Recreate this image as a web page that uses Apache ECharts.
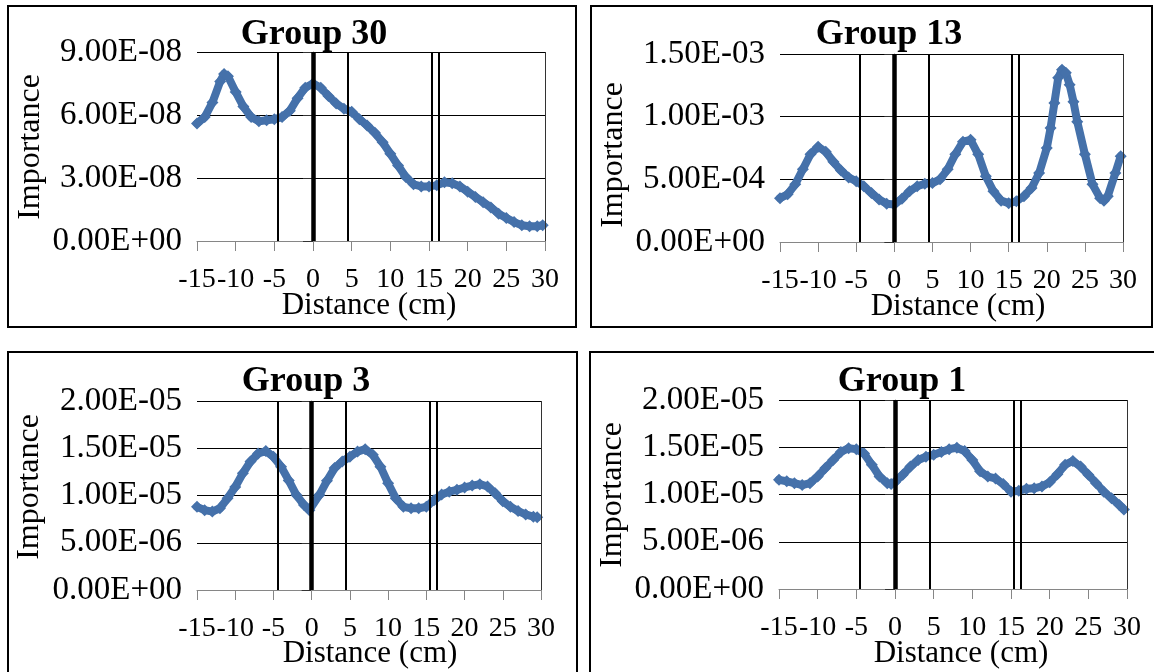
<!DOCTYPE html>
<html>
<head>
<meta charset="utf-8">
<script src="https://cdn.jsdelivr.net/npm/echarts@6/dist/echarts.min.js"></script>
<style>
  html, body { margin: 0; padding: 0; background: #fff; }
  #chart { width: 1154px; height: 672px; }
</style>
</head>
<body>
<div id="chart"></div>
<script>
// ---- Data: importance profiles along the distance axis (cm) ----
const xTicks = [-15, -10, -5, 0, 5, 10, 15, 20, 25, 30];

// Group 30 (values in units of 1e-8)
const group30Scale = 1e-8;
const group30Distance = [-15, -14, -13, -12, -11.5, -11, -10, -9, -8, -7, -6, -5, -4, -3, -2, -1, 0, 1, 2, 3, 4, 5, 6, 7, 8, 9, 10, 11, 12, 13, 14, 15, 16, 17, 18, 19, 20, 21, 22, 23, 24, 25, 26, 27, 28, 29, 29.7];
const group30Importance = [5.6, 5.9, 6.6, 7.6, 7.95, 7.85, 7.1, 6.4, 5.9, 5.7, 5.75, 5.8, 5.9, 6.2, 6.8, 7.3, 7.5, 7.3, 6.9, 6.55, 6.3, 6.15, 5.8, 5.5, 5.15, 4.7, 4.15, 3.6, 3.05, 2.7, 2.6, 2.6, 2.65, 2.8, 2.75, 2.6, 2.35, 2.1, 1.85, 1.6, 1.3, 1.1, 0.9, 0.75, 0.7, 0.7, 0.75];

// Group 13 (values in units of 1e-4)
const group13Scale = 1e-4;
const group13Distance = [-15, -14, -13, -12, -11, -10, -9, -8, -7, -6, -5, -4, -3, -2, -1, 0, 1, 2, 3, 4, 5, 6, 7, 8, 9, 10, 11, 12, 13, 14, 15, 16, 17, 18, 19, 20, 20.5, 21, 21.5, 22, 22.5, 23, 23.5, 24, 25, 26, 27, 27.5, 28, 29, 29.7];
const group13Importance = [3.5, 3.8, 4.6, 5.8, 7.0, 7.6, 7.2, 6.4, 5.7, 5.15, 4.85, 4.45, 3.9, 3.4, 3.05, 3.0, 3.45, 4.05, 4.45, 4.65, 4.7, 5.0, 5.8, 7.0, 8.0, 8.15, 7.0, 5.25, 4.05, 3.3, 3.1, 3.25, 3.65, 4.3, 5.5, 7.5, 9.1, 11.1, 13.1, 13.75, 13.5, 12.55, 11.2, 9.6, 7.0, 4.6, 3.5, 3.3, 3.65, 5.5, 6.85];

// Group 3 (values in units of 1e-6)
const group3Scale = 1e-6;
const group3Distance = [-15, -14, -13, -12, -11, -10, -9, -8, -7, -6, -5, -4, -3, -2, -1, -0.3, 1, 2, 3, 4, 5, 6, 7, 8, 9, 10, 11, 12, 13, 14, 15, 16, 17, 18, 19, 20, 21, 22, 23, 24, 25, 26, 27, 28, 29, 29.5];
const group3Importance = [8.8, 8.45, 8.3, 8.65, 9.7, 10.9, 12.35, 13.6, 14.45, 14.7, 14.1, 13.05, 11.6, 10.05, 9.0, 8.45, 10.05, 11.55, 12.9, 13.6, 14.1, 14.65, 14.9, 14.3, 13.05, 11.3, 9.7, 8.8, 8.65, 8.65, 8.8, 9.5, 10.1, 10.4, 10.6, 10.85, 11.05, 11.2, 10.95, 10.25, 9.4, 8.8, 8.35, 8.0, 7.75, 7.7];

// Group 1 (values in units of 1e-6)
const group1Scale = 1e-6;
const group1Distance = [-15, -14, -13, -12, -11, -10, -9, -8, -7, -6, -5, -4, -3, -2, -1, -0.5, 0, 1, 2, 3, 4, 5, 6, 7, 8, 9, 10, 11, 12, 13, 14, 15, 16, 17, 18, 19, 20, 21, 22, 23, 24, 25, 26, 27, 28, 29, 29.6];
const group1Importance = [11.55, 11.4, 11.2, 11.0, 11.2, 11.9, 12.8, 13.65, 14.5, 14.9, 14.8, 14.35, 13.15, 11.9, 11.2, 11.1, 11.3, 12.1, 12.95, 13.65, 14.0, 14.2, 14.5, 14.8, 14.95, 14.6, 13.65, 12.45, 11.9, 11.7, 11.1, 10.3, 10.4, 10.6, 10.65, 10.85, 11.3, 12.15, 13.15, 13.55, 12.95, 12.1, 11.2, 10.3, 9.6, 8.9, 8.4];

// Reference positions (cm) drawn as vertical lines; the one at 0 is bold
const refLines = [-4.5, 0, 4.5, 15.4, 16.3];

// Panel definitions
const panels = [
  { title: 'Group 30', dist: group30Distance, vals: group30Importance, scale: group30Scale, yMax: 9e-8, yStep: 3e-8,
    grid: { left: 197, top: 52, width: 348, height: 189 }, box: [8, 6, 568, 321],
    titlePos: [314, 35], yNamePos: [31, 147], xNamePos: [369, 306] },
  { title: 'Group 13', dist: group13Distance, vals: group13Importance, scale: group13Scale, yMax: 1.5e-3, yStep: 5e-4,
    grid: { left: 780, top: 54, width: 343, height: 188 }, box: [591, 6, 561, 321],
    titlePos: [889, 35], yNamePos: [614, 155], xNamePos: [958, 307] },
  { title: 'Group 3', dist: group3Distance, vals: group3Importance, scale: group3Scale, yMax: 2e-5, yStep: 5e-6,
    grid: { left: 197, top: 401, width: 344, height: 189 }, box: [8, 352, 569, 340],
    titlePos: [306, 382], yNamePos: [30, 487], xNamePos: [370, 654] },
  { title: 'Group 1', dist: group1Distance, vals: group1Importance, scale: group1Scale, yMax: 2e-5, yStep: 5e-6,
    grid: { left: 779, top: 400, width: 348, height: 189 }, box: [590, 352, 580, 340],
    titlePos: [902, 382], yNamePos: [613, 495], xNamePos: [961, 654] }
];

const FONT = '"Liberation Serif", "Times New Roman", serif';
const BLUE = '#4571aa';

function sciLabel(v) {
  const parts = Number(v).toExponential(2).split('e');
  const exp = parts[1];
  const sign = exp[0] === '-' ? '-' : '+';
  const digits = exp.replace(/^[+-]/, '').padStart(2, '0');
  return parts[0] + 'E' + sign + digits;
}

const grids = [], xAxes = [], yAxes = [], series = [], graphics = [];

panels.forEach((p, i) => {
  grids.push(Object.assign({ containLabel: false }, p.grid));

  xAxes.push({
    type: 'value', gridIndex: i, min: xTicks[0], max: xTicks[xTicks.length - 1], interval: 5,
    axisLine: { show: true, onZero: false, lineStyle: { color: '#868686', width: 1 } },
    axisTick: { show: true, length: 10, lineStyle: { color: '#868686' } },
    axisLabel: { color: '#000', fontFamily: FONT, fontSize: 28, margin: 25,
                 showMinLabel: true, showMaxLabel: true, hideOverlap: false },
    splitLine: { show: false }
  });

  yAxes.push({
    type: 'value', gridIndex: i, min: 0, max: p.yMax, interval: p.yStep,
    axisLine: { show: true, lineStyle: { color: '#868686', width: 1 } },
    axisTick: { show: true, length: 10, lineStyle: { color: '#333' } },
    axisLabel: { color: '#000', fontFamily: FONT, fontSize: 33, margin: 15, formatter: sciLabel,
                 showMinLabel: true, showMaxLabel: true },
    splitLine: { show: true, lineStyle: { color: '#000', width: 1.2 } }
  });

  // vertical reference lines plus the plot-area edge at the right
  series.push({
    type: 'line', xAxisIndex: i, yAxisIndex: i, data: [], z: 1, silent: true,
    markLine: {
      symbol: 'none', silent: true, animation: false, label: { show: false },
      data: refLines.map(x => ({
        xAxis: x,
        lineStyle: { color: '#000', type: 'solid', width: x === 0 ? 4.5 : 2 }
      })).concat([{ xAxis: 30, lineStyle: { color: '#333', type: 'solid', width: 1 } }])
    }
  });

  series.push({
    type: 'line', xAxisIndex: i, yAxisIndex: i, z: 3,
    data: p.dist.map((d, k) => [d, p.vals[k] * p.scale]),
    symbol: 'diamond', symbolSize: 12, showSymbol: true,
    itemStyle: { color: BLUE },
    lineStyle: { color: BLUE, width: 8, join: 'round', cap: 'round' },
    smooth: false
  });

  graphics.push({
    type: 'rect', shape: { x: p.box[0], y: p.box[1], width: p.box[2], height: p.box[3] },
    style: { fill: 'none', stroke: '#000', lineWidth: 2 }, z: 10, silent: true
  });
  graphics.push({
    type: 'text', x: p.titlePos[0], y: p.titlePos[1], z: 10, silent: true,
    style: { text: p.title, font: 'bold 36px ' + FONT, fill: '#000', textAlign: 'center', textVerticalAlign: 'middle' }
  });
  graphics.push({
    type: 'text', x: p.yNamePos[0], y: p.yNamePos[1], rotation: Math.PI / 2, z: 10, silent: true,
    style: { text: 'Importance', font: '32px ' + FONT, fill: '#000', textAlign: 'center', textVerticalAlign: 'middle' }
  });
  graphics.push({
    type: 'text', x: p.xNamePos[0], y: p.xNamePos[1], z: 10, silent: true,
    style: { text: 'Distance (cm)', font: '31px ' + FONT, fill: '#000', textAlign: 'center', textVerticalAlign: 'middle' }
  });
});

const chart = echarts.init(document.getElementById('chart'), null, { renderer: 'canvas' });
chart.setOption({
  backgroundColor: '#fff',
  animation: false,
  grid: grids,
  xAxis: xAxes,
  yAxis: yAxes,
  series: series,
  graphic: graphics
});
</script>
</body>
</html>
